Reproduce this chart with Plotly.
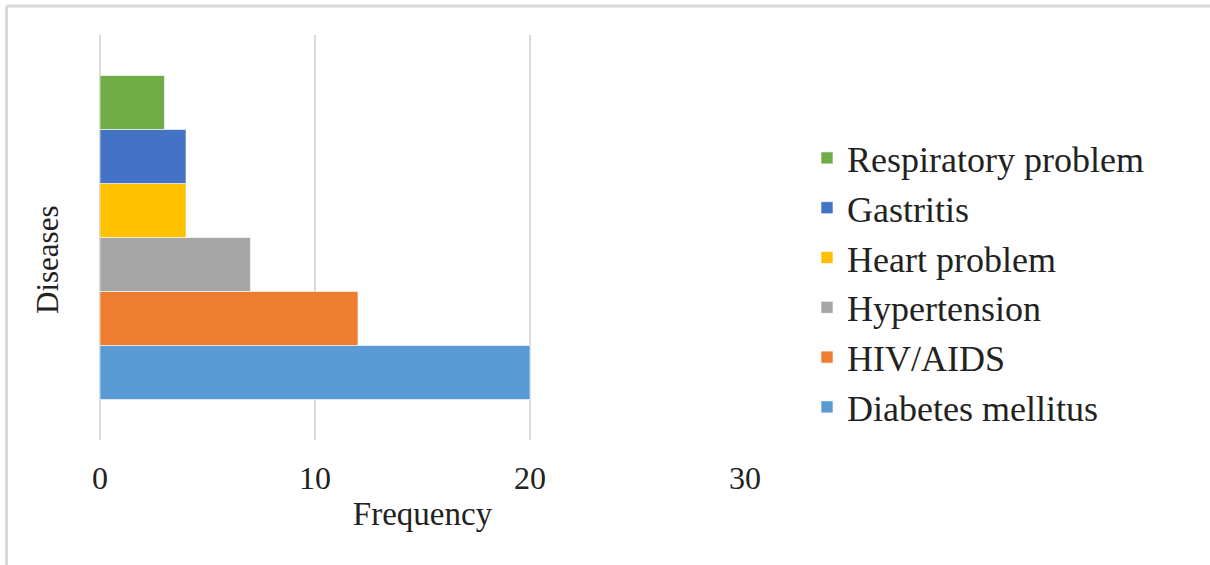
import plotly.graph_objects as go

# Disease frequencies (bottom bar first)
diseases = ["Diabetes mellitus", "HIV/AIDS", "Hypertension",
            "Heart problem", "Gastritis", "Respiratory problem"]
frequency = [20, 12, 7, 4, 4, 3]
colors = ["#5B9BD5", "#ED7D31", "#A5A5A5", "#FFC000", "#4472C4", "#70AD47"]
x_ticks = [0, 10, 20, 30]
category = ["Diseases"]

W, H = 1210, 565
ML, MR, MT, MB = 100, 465, 35, 125
FONT = "Liberation Serif, Times New Roman, serif"
TXT = "#222222"

fig = go.Figure()
for name, val, col in zip(diseases, frequency, colors):
    fig.add_trace(go.Bar(
        y=category, x=[val], name=name, orientation="h",
        marker=dict(color=col, line=dict(color="rgba(255,255,255,0.6)", width=1)),
    ))

# pixel -> paper coordinate helpers
pw, ph = W - ML - MR, H - MT - MB
def px_x(p):
    return (p - ML) / pw
def px_y(p):
    return (H - MB - p) / ph

# thin frame along the top and left edges of the figure
frame = dict(type="line", xref="paper", yref="paper",
             line=dict(color="#D9D9D9", width=3), layer="above")
fig.add_shape(x0=px_x(6.5), x1=px_x(6.5), y0=px_y(H), y1=px_y(6), **frame)
fig.add_shape(x0=px_x(6.5), x1=px_x(W), y0=px_y(6), y1=px_y(6), **frame)

# vertical axis title
fig.add_annotation(
    text="Diseases", textangle=-90, xref="paper", yref="paper",
    x=px_x(47), y=px_y(260), xanchor="center", yanchor="middle",
    showarrow=False, font=dict(family=FONT, size=31, color=TXT),
)

fig.update_layout(
    width=W, height=H,
    margin=dict(l=ML, r=MR, t=MT, b=MB, autoexpand=False),
    paper_bgcolor="white", plot_bgcolor="white",
    barmode="group", bargap=0.2, bargroupgap=0,
    font=dict(family=FONT, color=TXT, size=30),
    showlegend=True,
    legend=dict(
        traceorder="reversed",
        xref="container", yref="container",
        x=807 / W, y=1 - 128 / H, xanchor="left", yanchor="top",
        maxheight=420,
        font=dict(family=FONT, size=36, color=TXT),
        bgcolor="rgba(0,0,0,0)", itemwidth=30,
    ),
    xaxis=dict(
        range=[0, 30], tickvals=x_ticks, ticktext=[str(v) for v in x_ticks],
        showgrid=True, gridcolor="#D9D9D9", gridwidth=1.5,
        zeroline=True, zerolinecolor="#D9D9D9", zerolinewidth=1.5,
        showline=False, ticks="", ticklabelstandoff=16,
        tickfont=dict(family=FONT, size=32, color=TXT),
        title=dict(text="Frequency", standoff=6,
                   font=dict(family=FONT, size=33, color=TXT)),
        automargin=False, fixedrange=True,
    ),
    yaxis=dict(
        showticklabels=False, showgrid=False, zeroline=False, showline=False,
        ticks="", range=[-0.5, 0.5],
        automargin=False, fixedrange=True,
    ),
)

fig.write_html("out.html")
